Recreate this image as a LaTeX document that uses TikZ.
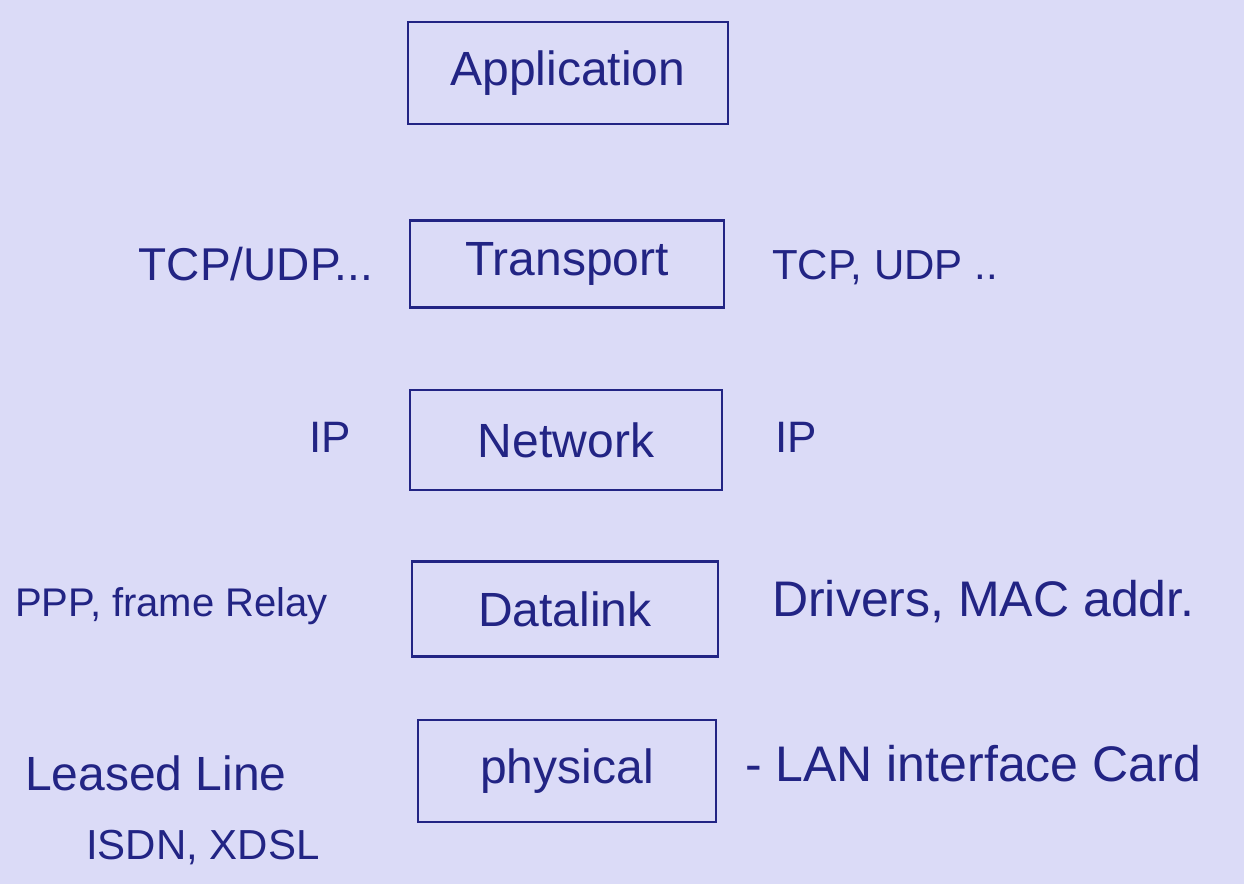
\documentclass[tikz,border=0pt]{standalone}
\usepackage{fontspec}
\setmainfont{Liberation Sans}
\definecolor{paper}{RGB}{219,219,247}
\definecolor{ink}{RGB}{34,36,132}
\begin{document}
\begin{tikzpicture}[x=1pt,y=-1pt,
  hand/.style={text=ink, inner sep=0pt, font=\fontsize{40}{48}\selectfont},
  layerbox/.style={draw=ink, line width=2.8pt, hand, font=\fontsize{48}{56}\selectfont, minimum width=#1},
  layerbox/.default=312pt]
  % sheet of paper
  \fill[paper] (0,0) rectangle (1244,884);
  \useasboundingbox (0,0) rectangle (1244,884);

  % protocol layers
  \node[layerbox=320pt, minimum height=102pt] (app)   at (568,73)  {Application};
  \node[layerbox=314pt, minimum height=87pt]  (trans) at (567,264) {Transport};
  \node[layerbox=312pt, minimum height=100pt] (net)   at (566,440) {Network};
  \node[layerbox=306pt, minimum height=95pt]  (dl)    at (565,609) {Datalink};
  \node[layerbox=298pt, minimum height=102pt] (phys)  at (567,771) {physical};

  % left-hand notes
  \node[hand, font=\fontsize{46}{54}\selectfont] (tcpL) at (256,264) {TCP/UDP...};
  \node[hand, font=\fontsize{44}{52}\selectfont] (ipL)  at (330,437) {IP};
  \node[hand, anchor=west] (pppL)   at (15,606)  {PPP, frame Relay};
  \node[hand, anchor=west, font=\fontsize{48}{56}\selectfont] (leased) at (25,773) {Leased Line};
  \node[hand, anchor=west, font=\fontsize{42}{50}\selectfont] (isdn)   at (86,848)  {ISDN, XDSL};

  % right-hand notes
  \node[hand, anchor=west, font=\fontsize{42}{50}\selectfont] (tcpR) at (772,268) {TCP, UDP ..};
  \node[hand, anchor=west, font=\fontsize{44}{52}\selectfont] (ipR)  at (775,437) {IP};
  \node[hand, anchor=west, font=\fontsize{50}{58}\selectfont] (drv)  at (772,602) {Drivers, MAC addr.};
  \node[hand, anchor=west, font=\fontsize{50}{58}\selectfont] (lan)  at (745,764) {- LAN interface Card};
\end{tikzpicture}
\end{document}
